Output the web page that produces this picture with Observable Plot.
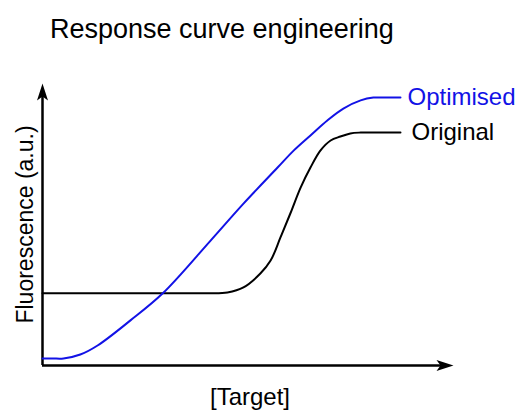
<!DOCTYPE html>
<html>
<head>
<meta charset="utf-8">
<script src="https://cdn.jsdelivr.net/npm/d3@7"></script>
<script src="https://cdn.jsdelivr.net/npm/@observablehq/plot@0.6"></script>
<style>
  html, body { margin: 0; padding: 0; background: #fff; }
  #title { font-family: "Liberation Sans", Arial, sans-serif; font-size: 27px; line-height: 30px;
           padding: 14px 0 0 50px; height: 29px; color: #000; }
  #chart svg { display: block; }
</style>
</head>
<body>
<div id="title">Response curve engineering</div>
<div id="chart"></div>
<script>
// Data (arbitrary units 0–100)
const seriesNames = ["Optimised", "Original"];
const optimisedX = [0, 2.5, 5.1, 9.2, 13.4, 21.4, 29.2, 40.9, 48.9, 57.2, 61.1, 65.2, 69.3, 73.2, 77.4, 80.5, 83.8, 87.1];
const optimisedY = [2.5, 2.5, 2.5, 3.9, 7.1, 16.0, 25.5, 44.3, 57.4, 70.2, 76.2, 81.6, 86.9, 91.1, 94.0, 95.0, 95.0, 95.0];
const originalX = [0, 10, 20, 30, 37, 40.9, 45.0, 48.9, 53.0, 55.5, 57.9, 60.3, 62.8, 65.2, 67.6, 70.1, 72.5, 74.9, 77.4, 80.6, 83.8, 87.1];
const originalY = [25.6, 25.6, 25.6, 25.6, 25.6, 25.6, 25.9, 27.7, 32.6, 37.2, 45.4, 53.9, 63.1, 70.2, 76.2, 79.8, 81.2, 82.3, 82.6, 82.6, 82.6, 82.6];
const seriesColors = ["#1212e6", "#000000"];
const xLabel = "[Target]";
const yLabel = "Fluorescence (a.u.)";
const axisMin = 0;
const axisMax = 100;

const optimised = optimisedX.map((x, i) => ({x, y: optimisedY[i]}));
const original = originalX.map((x, i) => ({x, y: originalY[i]}));

// filled, notched arrowhead with its tip at the origin, pointing up
const arrowHead = {
  draw(context) {
    context.moveTo(0, 0);
    context.lineTo(-5.5, 17);
    context.lineTo(0, 13);
    context.lineTo(5.5, 17);
    context.closePath();
  }
};
const arrowTips = [
  {x: axisMin, y: axisMax, rotate: 0},
  {x: axisMax, y: axisMin, rotate: 90}
];

const plot = Plot.plot({
  width: 520,
  height: 368,
  marginLeft: 42,
  marginRight: 67,
  marginTop: 40,
  marginBottom: 46,
  x: {domain: [axisMin, axisMax], axis: null},
  y: {domain: [axisMin, axisMax], axis: null},
  style: {fontFamily: "'Liberation Sans', Arial, sans-serif", fontSize: "24px", background: "#fff", overflow: "visible"},
  marks: [
    // axes
    Plot.ruleY([axisMin], {x1: axisMin, x2: axisMax - 2, stroke: "#000", strokeWidth: 2.5}),
    Plot.ruleX([axisMin], {y1: axisMin, y2: axisMax - 3, stroke: "#000", strokeWidth: 2.5}),
    Plot.dot(arrowTips, {x: "x", y: "y", rotate: "rotate", symbol: arrowHead, fill: "#000", stroke: null, r: 5}),
    // curves
    Plot.line(original, {x: "x", y: "y", stroke: seriesColors[1], strokeWidth: 2, curve: "catmull-rom"}),
    Plot.line(optimised, {x: "x", y: "y", stroke: seriesColors[0], strokeWidth: 2, curve: "catmull-rom"}),
    // series labels
    Plot.text([optimised[optimised.length - 1]], {x: "x", y: "y", text: () => seriesNames[0], fill: seriesColors[0], textAnchor: "start", dx: 7, fontSize: 24}),
    Plot.text([original[original.length - 1]], {x: "x", y: "y", text: () => seriesNames[1], fill: seriesColors[1], textAnchor: "start", dx: 11, fontSize: 24}),
    // axis labels
    Plot.text([xLabel], {frameAnchor: "bottom", textAnchor: "middle", lineAnchor: "middle", dy: 32, dx: 2, fill: "#000", fontSize: 24}),
    Plot.text([yLabel], {frameAnchor: "left", textAnchor: "middle", lineAnchor: "middle", rotate: -90, dx: -17, fill: "#000", fontSize: 23})
  ]
});
document.getElementById("chart").append(plot);
</script>
</body>
</html>
